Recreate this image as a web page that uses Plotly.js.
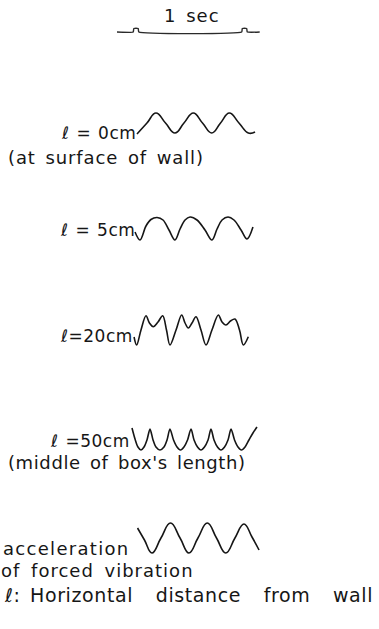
<!DOCTYPE html>
<html>
<head>
<meta charset="utf-8">
<script src="https://cdn.plot.ly/plotly-3.0.1.min.js"></script>
<style>
  html, body { margin: 0; padding: 0; background: #fff; }
  #chart { width: 379px; height: 629px; }
</style>
</head>
<body>
<div id="chart"></div>
<script>
// Time scale marker: baseline with two small tabs one second apart (s, deflection)
const markerTime = [-0.175, -0.026, -0.02, 0.02, 0.026, 0.974, 0.98, 1.02, 1.026, 1.14];
const markerLevel = [0, 0, 3.5, 3.5, 0, 0, 3.5, 3.5, 0, 0];

// l = 0 cm (at surface of wall)
const t0cm = [0.009, 0.101, 0.184, 0.272, 0.359, 0.442, 0.528, 0.613, 0.698, 0.779, 0.860, 0.949, 1.035, 1.097];
const d0cm = [-11, 0, 10, 0, -10, 0, 10, 0, -10, 0, 10, 0, -10, -9];

// l = 5 cm
const t5cm = [-0.009, 0.037, 0.092, 0.138, 0.194, 0.249, 0.304, 0.359, 0.406, 0.452, 0.498, 0.562, 0.636, 0.700, 0.747, 0.793, 0.848, 0.903, 0.968, 1.023, 1.078];
const d5cm = [-3, -11, 3, 9.5, 11.5, 9, -1, -11, 0, 9, 12, 9, -1, -11, 0, 9, 12, 9, -1, -10, 2];

// l = 20 cm (double-humped crests)
const t20cm = [-0.018, 0.006, 0.046, 0.092, 0.124, 0.159, 0.203, 0.246, 0.281, 0.313, 0.369, 0.421, 0.452, 0.482, 0.516, 0.553, 0.599, 0.645, 0.700, 0.759, 0.793, 0.829, 0.871, 0.912, 0.954, 0.989, 1.035];
const d20cm = [-7, -15, 0, 14.3, 7, 3.3, 8, 14.3, 0, -15, 0, 15, 7, 2, 7, 13.3, 0, -15, 0, 15, 8, 5, 9, 11, 0, -15, -6.7];

// l = 50 cm (middle of box's length): pointed crests, rounded troughs
const t50cm = [-0.037, -0.009, 0.018, 0.046, 0.074, 0.101, 0.129, 0.157, 0.184, 0.221, 0.258, 0.286, 0.313, 0.346, 0.378, 0.410, 0.442, 0.475, 0.507, 0.535, 0.567, 0.599, 0.631, 0.664, 0.691, 0.719, 0.751, 0.783, 0.816, 0.848, 0.876, 0.908, 0.940, 0.972, 1.005, 1.041, 1.078, 1.115];
const d50cm = [11, 0, -8, -11, -8, -1, 10, -1, -8, -11, -8, -1, 10, -1, -8, -11, -8, -1, 10, -1, -8, -11, -8, -1, 10, -1, -8, -11, -8, -1, 10, -1, -8, -11, -8, -1, 6, 12];

// acceleration of forced vibration
const tAcc = [0.014, 0.078, 0.147, 0.230, 0.318, 0.406, 0.488, 0.571, 0.657, 0.742, 0.827, 0.912, 0.995, 1.069, 1.134];
const dAcc = [10, -2, -15, 0, 15, 0, -15, 0, 15, 0, -15, 0, 14, 1, -12];

// Labels
const scaleLabel = '1 sec';
const rowLabels = ['ℓ = 0cm', 'ℓ = 5cm', 'ℓ=20cm', 'ℓ =50cm'];
const noteWall = '(at surface of wall)';
const noteMiddle = "(middle of box's length)";
const accLabel1 = 'acceleration';
const accLabel2 = 'of forced vibration';
const legendKey = 'ℓ:';
const legendText = 'Horizontal distance from wall';

// ---- page geometry ----
const W = 379, H = 629;
const ORIGIN_PX = 136;      // horizontal pixel of t = 0
const PX_PER_SEC = 108.5;   // horizontal pixels per second
const HALF = 20;            // half-height of each trace strip (px), one unit = one px

function strip(midPx) {
  return {
    domain: [(H - (midPx + HALF)) / H, (H - (midPx - HALF)) / H],
    range: [-HALF, HALF],
    visible: false,
    fixedrange: true
  };
}
const px = x => x / W;
const py = y => 1 - y / H;

const ink = '#161616';
function wave(t, d, yax, smoothing) {
  return {
    type: 'scatter', mode: 'lines', x: t, y: d, xaxis: 'x', yaxis: yax,
    line: { color: ink, width: 1.6, shape: 'spline', smoothing: smoothing },
    hoverinfo: 'skip', showlegend: false
  };
}

const data = [
  { type: 'scatter', mode: 'lines', x: markerTime, y: markerLevel, xaxis: 'x', yaxis: 'y',
    line: { color: '#2a2a2a', width: 1.4, shape: 'spline', smoothing: 0.4 }, hoverinfo: 'skip', showlegend: false },
  wave(t0cm, d0cm, 'y2', 1.3),
  wave(t5cm, d5cm, 'y3', 1),
  wave(t20cm, d20cm, 'y4', 1),
  wave(t50cm, d50cm, 'y5', 0.8),
  wave(tAcc, dAcc, 'y6', 1.3)
];

// stencil-like lettering: slightly spread letters and words
function spaced(text, letter, word) {
  return '<span style="letter-spacing:' + letter + 'px;word-spacing:' + word + 'px">' + text + '</span>';
}
function label(html, x, y, anchor, size) {
  return { text: html, xref: 'paper', yref: 'paper', x: px(x), y: py(y),
           xanchor: anchor, yanchor: 'middle', showarrow: false, borderpad: 0,
           font: { family: 'DejaVu Sans, sans-serif', size: size, color: ink } };
}

const layout = {
  width: W, height: H,
  margin: { l: 0, r: 0, t: 0, b: 0 },
  paper_bgcolor: '#fff', plot_bgcolor: '#fff',
  xaxis: { range: [-ORIGIN_PX / PX_PER_SEC, (W - ORIGIN_PX) / PX_PER_SEC], domain: [0, 1],
           visible: false, fixedrange: true },
  yaxis: strip(32),
  yaxis2: strip(123),
  yaxis3: strip(229),
  yaxis4: strip(330),
  yaxis5: strip(439),
  yaxis6: strip(538),
  annotations: [
    label(spaced(scaleLabel, 1, 3), 191.5, 15, 'center', 18),
    label(spaced(rowLabels[0], 0.5, 1), 137, 133.5, 'right', 17),
    label(spaced(noteWall, 0.9, 3), 7, 157.5, 'left', 18),
    label(spaced(rowLabels[1], 0.5, 1), 136, 230, 'right', 17),
    label(spaced(rowLabels[2], 0.5, 1), 134, 335.5, 'right', 17),
    label(spaced(rowLabels[3], 0.5, 1), 131, 440.5, 'right', 17),
    label(spaced(noteMiddle, 0.6, 3), 7, 462.5, 'left', 18),
    label(spaced(accLabel1, 1.3, 3), 2, 548.5, 'left', 18),
    label(spaced(accLabel2, 1.0, 4), 0, 570, 'left', 18),
    label(spaced(legendKey + ' ', 0.6, 3) + spaced(legendText, 0.6, 16), 3, 594.5, 'left', 19)
  ],
  showlegend: false
};

Plotly.newPlot('chart', data, layout, { staticPlot: true, displayModeBar: false });
</script>
</body>
</html>
